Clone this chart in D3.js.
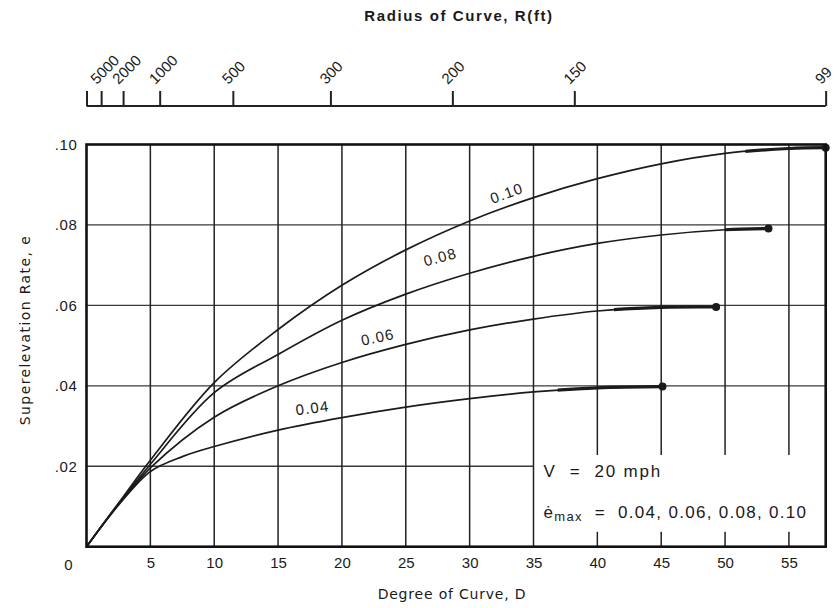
<!DOCTYPE html>
<html>
<head>
<meta charset="utf-8">
<script src="https://cdn.jsdelivr.net/npm/d3@7"></script>
<style>
  html, body { margin: 0; padding: 0; background: #ffffff; }
  svg { display: block; }
  text { font-family: "Liberation Sans", Arial, sans-serif; fill: #1a1a1a; }
</style>
</head>
<body>
<svg id="chart" width="835" height="608"></svg>
<script>
// ---------------- DATA ----------------
const radiusTicks = [5000, 2000, 1000, 500, 300, 200, 150, 99];       // R (ft) labels on top axis
const degreeTicks = [5, 10, 15, 20, 25, 30, 35, 40, 45, 50, 55];      // D labels on bottom axis
const eTicks = [0.02, 0.04, 0.06, 0.08, 0.10];
const eTickLabels = [".02", ".04", ".06", ".08", ".10"];
const seriesNames = ["0.04", "0.06", "0.08", "0.10"];                  // e max

const d004 = [0, 2.5, 5, 7.5, 10, 15, 20, 25, 30, 35, 40, 45.1];
const e004 = [0, 0.0103, 0.0187, 0.0224, 0.0249, 0.0290, 0.0321, 0.0347, 0.0368, 0.0385, 0.0395, 0.0398];

const d006 = [0, 2.5, 5, 10, 15, 20, 25, 30, 35, 40, 45, 49.3];
const e006 = [0, 0.0105, 0.0196, 0.0322, 0.0400, 0.0458, 0.0503, 0.0539, 0.0566, 0.0586, 0.0595, 0.0596];

const d008 = [0, 2.5, 5, 10, 15, 20, 25, 30, 35, 40, 45, 50, 53.4];
const e008 = [0, 0.0107, 0.0205, 0.0383, 0.0478, 0.0563, 0.0628, 0.0680, 0.0722, 0.0754, 0.0775, 0.0788, 0.0791];

const d010 = [0, 2.5, 5, 10, 15, 20, 25, 30, 35, 40, 45, 50, 55, 57.88];
const e010 = [0, 0.0108, 0.0215, 0.0408, 0.0540, 0.0650, 0.0738, 0.0810, 0.0868, 0.0915, 0.0952, 0.0978, 0.0990, 0.0992];

const heavyFrom = [36.9, 41.3, 50.0, 51.6];                            // start of the heavy (flat) part, D

// label anchors (D, e) and tilt for the curve labels
const labelD = [17.7, 22.8, 27.7, 32.9];
const labelE = [0.0345, 0.0521, 0.0720, 0.0879];
const labelTilt = [-7, -12, -15, -20];

// ---------------- LAYOUT ----------------
const svg = d3.select("#chart");
const L = 86.5, R = 825.7, T = 144.5, B = 546.7;
const x = d3.scaleLinear().domain([0, 57.88]).range([L, R]);
const y = d3.scaleLinear().domain([0, 0.10]).range([B, T]);
const ink = "#1b1b1b";
const wide = "'DejaVu Sans', Verdana, sans-serif";

const series = [
  { name: seriesNames[0], d: d004, e: e004, heavy: heavyFrom[0] },
  { name: seriesNames[1], d: d006, e: e006, heavy: heavyFrom[1] },
  { name: seriesNames[2], d: d008, e: e008, heavy: heavyFrom[2] },
  { name: seriesNames[3], d: d010, e: e010, heavy: heavyFrom[3] }
].map(s => ({ ...s, pts: s.d.map((dv, i) => [dv, s.e[i]]) }));

// legend gap (region where vertical grid is interrupted)
const gapLowE = 0.0037, gapHighE = 0.0228, legendFromD = 35;

// ---------------- GRID ----------------
const grid = svg.append("g");
grid.selectAll("line.h").data(eTicks.filter(v => v < 0.1)).join("line")
  .attr("x1", x(0)).attr("x2", v => v === 0.02 ? x(legendFromD) : x.range()[1])
  .attr("y1", v => y(v)).attr("y2", v => y(v))
  .attr("stroke", "#3a3a3a").attr("stroke-width", 1.3);
degreeTicks.forEach(dv => {
  if (dv <= legendFromD) {
    grid.append("line").attr("x1", x(dv)).attr("x2", x(dv)).attr("y1", y(0)).attr("y2", y(0.1))
      .attr("stroke", "#222").attr("stroke-width", 1.5);
  } else {
    grid.append("line").attr("x1", x(dv)).attr("x2", x(dv)).attr("y1", y(gapHighE)).attr("y2", y(0.1))
      .attr("stroke", "#222").attr("stroke-width", 1.5);
    grid.append("line").attr("x1", x(dv)).attr("x2", x(dv)).attr("y1", y(0)).attr("y2", y(gapLowE))
      .attr("stroke", "#222").attr("stroke-width", 1.5);
  }
});

// ---------------- CURVES ----------------
const line = d3.line().x(p => x(p[0])).y(p => y(p[1])).curve(d3.curveCatmullRom.alpha(0.5));
const defs = svg.append("defs");
series.forEach((s, i) => {
  defs.append("clipPath").attr("id", "hv" + i).append("rect")
    .attr("x", x(s.heavy)).attr("y", 0).attr("width", 835 - x(s.heavy)).attr("height", 608);
});
const cg = svg.append("g");
cg.selectAll("path.c").data(series).join("path")
  .attr("d", s => line(s.pts)).attr("fill", "none").attr("stroke", ink).attr("stroke-width", 1.7);
cg.selectAll("path.h").data(series).join("path")
  .attr("d", s => line(s.pts)).attr("fill", "none").attr("stroke", ink).attr("stroke-width", 3.2)
  .attr("clip-path", (s, i) => `url(#hv${i})`);
cg.selectAll("circle").data(series).join("circle")
  .attr("cx", s => x(s.d[s.d.length - 1])).attr("cy", s => y(s.e[s.e.length - 1]))
  .attr("r", 4).attr("fill", ink);

// curve labels
svg.selectAll("text.cl").data(seriesNames).join("text")
  .attr("transform", (n, i) => `translate(${x(labelD[i])},${y(labelE[i])}) rotate(${labelTilt[i]})`)
  .attr("text-anchor", "middle").attr("dy", "0.35em")
  .style("font-size", "15px").style("letter-spacing", "1.2px")
  .text(n => n);

// ---------------- FRAME ----------------
svg.append("rect").attr("x", x(0)).attr("y", y(0.1)).attr("width", x.range()[1] - x(0)).attr("height", y(0) - y(0.1))
  .attr("fill", "none").attr("stroke", "#111").attr("stroke-width", 2.6);

// ---------------- AXES ----------------
const xAxis = d3.axisBottom(x).tickValues(degreeTicks).tickSize(0).tickPadding(11).tickFormat(d3.format("d"));
const gx = svg.append("g").attr("transform", `translate(0,${B})`).call(xAxis);
gx.select(".domain").remove();
gx.selectAll("text").style("font-size", "15px").attr("fill", ink);
svg.append("text").attr("x", x(0) - 18).attr("y", B + 23).attr("text-anchor", "middle")
  .style("font-size", "15px").text("0");

const yAxis = d3.axisLeft(y).tickValues(eTicks).tickSize(0).tickPadding(9)
  .tickFormat((v, i) => eTickLabels[i]);
const gy = svg.append("g").attr("transform", `translate(${L},0)`).call(yAxis);
gy.select(".domain").remove();
gy.selectAll("text").style("font-size", "15px").style("letter-spacing", "0.6px").attr("fill", ink);

// top radius axis
const topVals = [0, ...radiusTicks.map(r => 5729.58 / r)];
const topAxis = d3.axisTop(x).tickValues(topVals).tickSizeInner(15).tickSizeOuter(0)
  .tickFormat((v, i) => i === 0 ? "" : String(radiusTicks[i - 1]));
const gt = svg.append("g").attr("transform", "translate(0,106)").call(topAxis);
gt.select(".domain").attr("stroke", "#222").attr("stroke-width", 2).attr("d", `M${L},0H${R}`);
gt.selectAll(".tick line").attr("stroke", "#222").attr("stroke-width", 2);
gt.selectAll(".tick text")
  .attr("x", 0).attr("y", 0).attr("dy", 0)
  .attr("transform", "translate(-5,-21) rotate(-45)")
  .style("text-anchor", "start").style("font-size", "15px").attr("fill", ink);

// titles
svg.append("text").attr("x", 459).attr("y", 21).attr("text-anchor", "middle")
  .style("font-size", "15px").style("font-weight", "bold").style("letter-spacing", "1.6px")
  .text("Radius of Curve, R(ft)");
svg.append("text").attr("x", 452).attr("y", 599).attr("text-anchor", "middle")
  .style("font-family", wide).style("font-size", "14px").style("letter-spacing", "0.8px")
  .text("Degree of Curve, D");
svg.append("text").attr("transform", `translate(30,330) rotate(-90)`).attr("text-anchor", "middle")
  .style("font-family", wide).style("font-size", "14px").style("letter-spacing", "1.4px")
  .text("Superelevation Rate, e");

// legend text
const lg = svg.append("g").attr("transform", `translate(${x(legendFromD) + 10},0)`);
lg.append("text").attr("x", 0).attr("y", 477).style("font-size", "17px").style("letter-spacing", "1.8px")
  .attr("xml:space", "preserve").text("V  =  20 mph");
const t2 = lg.append("text").attr("x", 0).attr("y", 518).style("font-size", "17px").style("letter-spacing", "1.3px")
  .attr("xml:space", "preserve");
t2.append("tspan").text("ė");
t2.append("tspan").attr("dy", 3).style("font-size", "13px").text("max");
t2.append("tspan").attr("dy", -3).text("  =  " + seriesNames.join(", "));
</script>
</body>
</html>
